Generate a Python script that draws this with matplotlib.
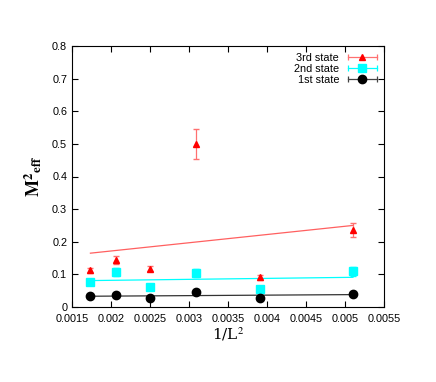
import numpy as np
import matplotlib.pyplot as plt
from matplotlib.lines import Line2D

L = np.array([24, 22, 20, 18, 16, 14])
x = 1.0 / L**2

m1 = [0.035, 0.036, 0.028, 0.045, 0.027, 0.039]
e1 = [0.004, 0.004, 0.004, 0.005, 0.004, 0.004]
m2 = [0.076, 0.108, 0.062, 0.103, 0.055, 0.109]
e2 = [0.008, 0.012, 0.008, 0.012, 0.008, 0.013]
m3 = [0.113, 0.144, 0.118, 0.500, 0.091, 0.236]
e3 = [0.008, 0.013, 0.008, 0.047, 0.007, 0.02]

# fitted lines (endpoints)
fx = [x[0], x[-1]]
f1 = [0.033, 0.038]
f2 = [0.081, 0.091]
f3 = [0.165, 0.250]


class ErrHandler:
    # gnuplot-like key sample: horizontal bar with end caps and marker in the middle
    def __init__(self, color, ecolor, marker, ms):
        self.color, self.ecolor, self.marker, self.ms = color, ecolor, marker, ms

    def legend_artist(self, legend, orig_handle, fontsize, handlebox):
        x0, y0 = handlebox.xdescent, handlebox.ydescent
        w, h = handlebox.width, handlebox.height
        yc = y0 + h / 2
        arts = [Line2D([x0, x0 + w], [yc, yc], color=self.ecolor, lw=0.9),
                Line2D([x0, x0 + w], [yc, yc], ls='', marker='|', ms=5,
                       color=self.ecolor, mew=0.9),
                Line2D([x0 + w / 2], [yc], ls='', marker=self.marker, ms=self.ms,
                       color=self.color)]
        for a in arts:
            a.set_transform(handlebox.get_transform())
            handlebox.add_artist(a)
        return arts[-1]


plt.rcParams['font.family'] = ['Liberation Sans', 'DejaVu Sans']
plt.rcParams['mathtext.fontset'] = 'stix'
fig = plt.figure(figsize=(4.36, 3.82), dpi=100)
ax = fig.add_axes([72/436, 1-307/382, 312/436, 261/382])

ax.plot(fx, f3, '-', color='#ff6060', lw=0.9)
ax.plot(fx, f2, '-', color='cyan', lw=0.9)
ax.plot(fx, f1, '-', color='#333333', lw=0.9)

h3 = ax.errorbar(x, m3, yerr=e3, fmt='^', color='red', ms=5, ecolor='#ff7070',
                 elinewidth=0.9, capsize=2.5, label='3rd state')
h2 = ax.errorbar(x, m2, yerr=e2, fmt='s', color='cyan', ms=6, ecolor='cyan',
                 elinewidth=0.9, capsize=2.5, label='2nd state')
h1 = ax.errorbar(x, m1, yerr=e1, fmt='o', color='black', ms=6, ecolor='#444444',
                 elinewidth=0.9, capsize=2.5, label='1st state')

ax.set_xlim(0.0015, 0.0055)
ax.set_ylim(0, 0.8)
ax.set_xticks(np.arange(0.0015, 0.00551, 0.0005))
ax.set_xticklabels(['0.0015', '0.002', '0.0025', '0.003', '0.0035', '0.004',
                    '0.0045', '0.005', '0.0055'])
ax.set_yticks(np.arange(0, 0.81, 0.1))
ax.set_yticklabels(['0', '0.1', '0.2', '0.3', '0.4', '0.5', '0.6', '0.7', '0.8'])
ax.tick_params(direction='in', top=True, right=True, labelsize=7.8, length=4)
ax.tick_params(axis='x', pad=5)

ax.set_xlabel('1/L$^2$', family='serif', fontsize=11, labelpad=1)
ax.set_ylabel(r'$\mathbf{M}^{\mathbf{2}}{}_{\mathbf{eff}}$', fontsize=13, labelpad=6)

ax.legend(handles=[h3, h2, h1], loc='upper right', frameon=False, markerfirst=False,
          fontsize=7.8, handlelength=2.7, labelspacing=0.1, borderaxespad=0.25,
          handler_map={h3: ErrHandler('red', '#ff7070', '^', 5),
                       h2: ErrHandler('cyan', 'cyan', 's', 6),
                       h1: ErrHandler('black', '#444444', 'o', 6)})

fig.savefig('out.png', dpi=100)
